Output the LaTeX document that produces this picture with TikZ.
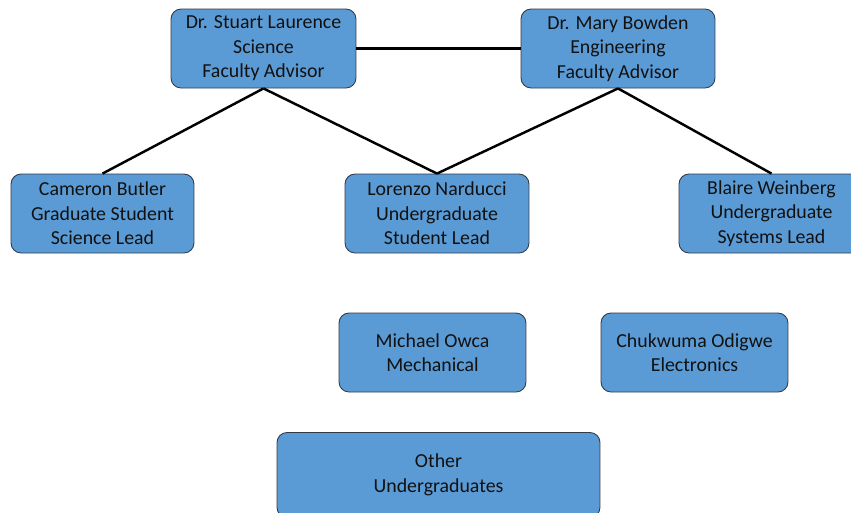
\documentclass[tikz,border=0pt]{standalone}
\usepackage{fontspec}
\setmainfont{Carlito}
\usetikzlibrary{positioning}
\definecolor{boxblue}{HTML}{5B9BD5}
\definecolor{boxedge}{HTML}{2F3B4C}
\definecolor{inkdark}{HTML}{111111}

\begin{document}
\begin{tikzpicture}[x=0.02cm, y=-0.02cm,
    rolebox/.style={draw=boxedge, fill=boxblue, line width=0.5pt, rounded corners=0.2cm,
      minimum width=3.7cm, minimum height=1.58cm, align=center, text=inkdark,
      font=\fontsize{11.3}{13.9}\selectfont, inner sep=0pt},
    tie/.style={black, line width=1.4pt}]
  % Page frame
  \useasboundingbox (0,0) rectangle (851,512);
  \clip (0,0) rectangle (851,512);

  % Faculty advisors
  \node[rolebox] (stuart) at (263.5,48.5) {Dr. Stuart Laurence\\Science\\Faculty Advisor};
  \node[rolebox, minimum width=3.88cm] (mary) at (618,48.5) {Dr. Mary Bowden\\Engineering\\Faculty Advisor};

  % Student leads
  \node[rolebox, minimum width=3.66cm] (cameron) at (102.5,213.5) {Cameron Butler\\Graduate Student\\Science Lead};
  \node[rolebox, minimum width=3.68cm] (lorenzo) at (437,213.5) {Lorenzo Narducci\\Undergraduate\\Student Lead};
  \node[rolebox] (blaire) at (771.5,213.5) {Blaire Weinberg\\Undergraduate\\Systems Lead};

  % Sub-teams
  \node[rolebox, minimum width=3.74cm] (michael) at (432.5,352.5) {Michael Owca\\Mechanical};
  \node[rolebox, minimum width=3.74cm] (chukwuma) at (694.5,352.5) {Chukwuma Odigwe\\Electronics};
  \node[rolebox, minimum width=6.46cm, minimum height=1.7cm] (others) at (438.5,475) {Other\\Undergraduates};

  % Connectors
  \draw[tie] (stuart.east) -- (mary.west);
  \draw[tie] (stuart.south) -- (cameron.north);
  \draw[tie] (stuart.south) -- (lorenzo.north);
  \draw[tie] (mary.south) -- (lorenzo.north);
  \draw[tie] (mary.south) -- (blaire.north);
\end{tikzpicture}
\end{document}
